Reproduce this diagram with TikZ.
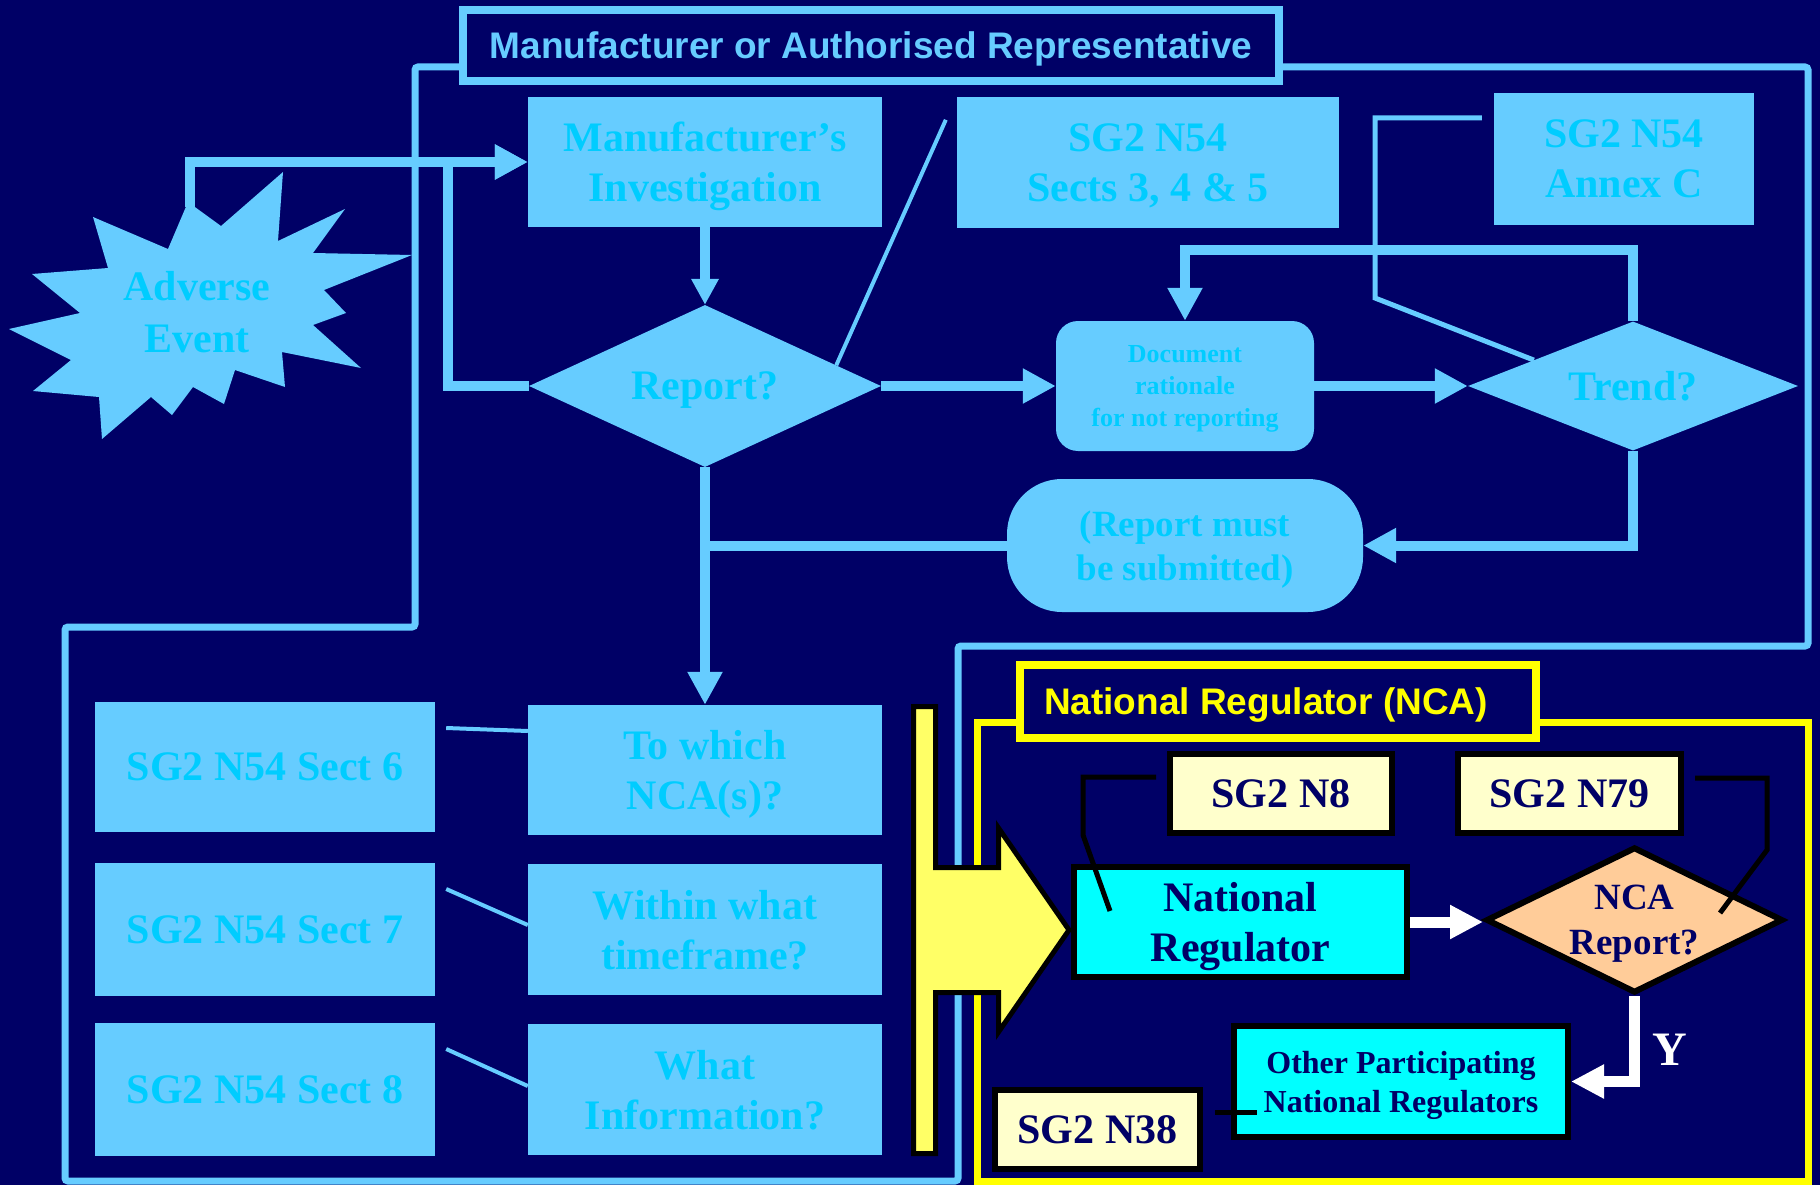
\documentclass[tikz,border=0pt]{standalone}
\usepackage{fontspec}
\setmainfont{Liberation Serif}
\newfontfamily\hsans{Liberation Sans}
\usetikzlibrary{shapes.geometric,arrows.meta,calc}
\definecolor{navy}{RGB}{0,0,102}
\definecolor{lblue}{RGB}{102,204,255}
\definecolor{tcyan}{RGB}{0,204,255}
\definecolor{ncacyan}{RGB}{0,255,255}
\definecolor{cream}{RGB}{255,255,204}
\definecolor{peach}{RGB}{255,204,153}
\definecolor{yarrow}{RGB}{255,255,102}
\definecolor{yframe}{RGB}{255,255,0}
\newcommand{\fsz}[2]{\bfseries\fontsize{#1}{#2}\selectfont}
\begin{document}
\begin{tikzpicture}[x=1pt,y=-1pt,
  lbox/.style={fill=lblue, inner sep=0pt, text=tcyan, font=\fsz{42}{50}, align=center, text depth=0pt},
  ldia/.style={lbox, shape=diamond},
  conn/.style={draw=lblue, line width=10pt, -{Triangle[length=33pt,width=33pt]}},
  connp/.style={draw=lblue, line width=10pt},
  thinln/.style={draw=lblue, line width=4pt},
  lbframe/.style={draw=lblue, line width=7pt},
  cbox/.style={fill=cream, draw=black, line width=6pt, inner sep=0pt, text=navy, font=\fsz{42}{50}, align=center, text depth=0pt},
  nbox/.style={fill=ncacyan, draw=black, line width=6pt, inner sep=0pt, text=navy, align=center, text depth=0pt},
  warrow/.style={draw=white, line width=11pt, -{Triangle[length=33pt,width=32pt]}},
  blk/.style={draw=black, line width=5pt},
]
\fill[navy] (0,0) rectangle (1820,1185);
\useasboundingbox (0,0) rectangle (1820,1185);

% outer frames
\draw[lbframe, rounded corners=3pt] (415,67) -- (415,627) -- (65,627) -- (65,1181) -- (958,1181) -- (958,646) -- (1808,646) -- (1808,67) -- cycle;
\node[draw=lblue, line width=8pt, fill=navy, minimum width=816pt, minimum height=71pt, inner sep=0pt, text=lblue, text depth=0pt, font=\hsans\fsz{37}{44}] (hdr1) at (871,45.5) {Manufacturer or Authorised Representative};
\draw[draw=yframe, line width=7pt] (977,722) rectangle (1808,1181);
\node[draw=yframe, line width=8pt, fill=navy, minimum width=516pt, minimum height=73pt, inner sep=0pt, text=yframe, text depth=0pt, font=\hsans\fsz{37}{44}] (hdr2) at (1278,701.5) {National Regulator (NCA)\hspace*{24pt}};

% adverse event star
\fill[lblue] (93,217) -- (108,268) -- (32,274) -- (80,313) -- (9,329) -- (71,360) -- (33,391) -- (99,397) -- (102,439) -- (151,397) -- (172,415) -- (193,387) -- (224,404) -- (235,370) -- (285,387) -- (282,352) -- (361,368) -- (313,325) -- (346,313) -- (324,290) -- (412,255) -- (313,253) -- (345,209) -- (278,241) -- (283,172) -- (221,226) -- (188,202) -- (168,249) -- cycle;
\node[text=tcyan, font=\fsz{42}{52}, align=center, text depth=0pt, inner sep=0pt] (ae) at (197,312) {Adverse\\Event};
\coordinate (aetop) at (190,207);

% manufacturer boxes
\node[lbox, minimum width=354pt, minimum height=130pt] (inv) at (705,162) {Manufacturer’s\\Investigation};
\node[lbox, minimum width=382pt, minimum height=131pt] (s345) at (1148,162.5) {SG2 N54\\Sects 3, 4 \& 5};
\node[lbox, minimum width=260pt, minimum height=132pt] (annc) at (1624,159) {SG2 N54\\Annex C};
\node[ldia, aspect=2.17, minimum width=352pt, minimum height=162pt] (report) at (705,386) {Report?};
\node[lbox, rounded corners=22pt, minimum width=258pt, minimum height=130pt, font=\fsz{26}{32}] (doc) at (1185,386) {Document\\rationale\\for not reporting};
\node[ldia, aspect=2.56, minimum width=330pt, minimum height=129pt] (trend) at (1633,386) {Trend?};
\node[lbox, rounded corners=55pt, minimum width=356pt, minimum height=133pt, font=\fsz{37}{44}] (submit) at (1185,545.5) {(Report must\\be submitted)};

\node[lbox, minimum width=340pt, minimum height=130pt] (s6) at (265,767) {SG2 N54 Sect 6};
\node[lbox, minimum width=340pt, minimum height=133pt] (s7) at (265,929.5) {SG2 N54 Sect 7};
\node[lbox, minimum width=340pt, minimum height=133pt] (s8) at (265,1089.5) {SG2 N54 Sect 8};
\node[lbox, minimum width=354pt, minimum height=130pt] (nca) at (705,770) {To which\\NCA(s)?};
\node[lbox, minimum width=354pt, minimum height=131pt] (time) at (705,929.5) {Within what\\timeframe?};
\node[lbox, minimum width=354pt, minimum height=131pt] (info) at (705,1089.5) {What\\Information?};

% connectors
\draw[conn] (aetop) |- (inv.west);
\draw[conn] (report.west) -| ($(inv.west)+(-80,0)$) -- (inv.west);
\draw[conn, -{Triangle[length=26pt,width=26pt]}] (inv.south) -- (report.north);
\draw[conn] (report.east) -- (doc.west);
\draw[conn] (doc.east) -- (trend.west);
\draw[conn] (trend.north) -- ++(0,-71) -| (doc.north);
\draw[conn] (trend.south) |- (submit.east);
\draw[conn] (report.south) -- (nca.north);
\draw[connp] (report.south |- submit.west) -- (submit.west);

\draw[thinln] ($(report.north)!0.745!(report.east)$) -- ($(s345.north west)+(-11,23)$);
\draw[thinln, line width=5pt] ($(annc.west)+(-12,-41)$) -- (1375,118) -- (1375,298) -- ($(trend.west)!0.4!(trend.north)$);
\draw[thinln] ($(s6.east)+(11,-39)$) -- ($(nca.west)+(0,-39)$);
\draw[thinln] ($(s7.east)+(11,-40.5)$) -- ($(time.west)+(0,-4.5)$);
\draw[thinln] ($(s8.east)+(11,-40.5)$) -- ($(info.west)+(0,-3.5)$);

% national regulator part
\node[cbox, minimum width=222pt, minimum height=79pt] (n8) at (1281,793.5) {SG2 N8};
\node[cbox, minimum width=223pt, minimum height=79pt] (n79) at (1569.5,793.5) {SG2 N79};
\node[nbox, minimum width=333pt, minimum height=110pt, font=\fsz{42}{50}] (natreg) at (1240.5,922) {National\\Regulator};
\node[shape=diamond, aspect=2.03, fill=peach, draw=black, line width=6pt, inner sep=0pt, minimum width=297pt, minimum height=146pt, text=navy, font=\fsz{37}{45}, align=center, text depth=0pt] (ncarep) at (1634.5,920) {NCA\\Report?};
\node[nbox, minimum width=334pt, minimum height=111pt, font=\fsz{32}{39}] (other) at (1401,1081.5) {Other Participating\\National Regulators};
\node[cbox, minimum width=205pt, minimum height=79pt] (n38) at (1097.5,1129.5) {SG2 N38};

\draw[blk] ($(n8.west)+(-11,-16.5)$) -- ++(-73,0) -- ++(0,58) -- ($(natreg.north west)+(39,47)$);
\draw[blk] ($(n79.east)+(11,-15.5)$) -- ++(72,0) -- ++(0,72) -- ($(ncarep.center)+(85.5,-7)$);
\draw[blk] ($(n38.east)+(12,-17.5)$) -- ($(other.west)+(26,30.5)$);

\draw[warrow] (natreg.east) -- (natreg.east -| ncarep.west);
\draw[warrow] (ncarep.south) |- (other.east);
\node[text=white, font=\fsz{48}{48}, inner sep=0pt] (ylab) at (1670,1050) {Y};

% big yellow arrow
\draw[fill=yarrow, draw=black, line width=5pt, line join=miter] (913.5,706.5) -- (935.5,706.5) -- (935.5,867.5) -- (998.5,867.5) -- (998.5,828) -- (1069,930) -- (998.5,1032) -- (998.5,992.5) -- (935.5,992.5) -- (935.5,1153.5) -- (913.5,1153.5) -- cycle;
\end{tikzpicture}
\end{document}
